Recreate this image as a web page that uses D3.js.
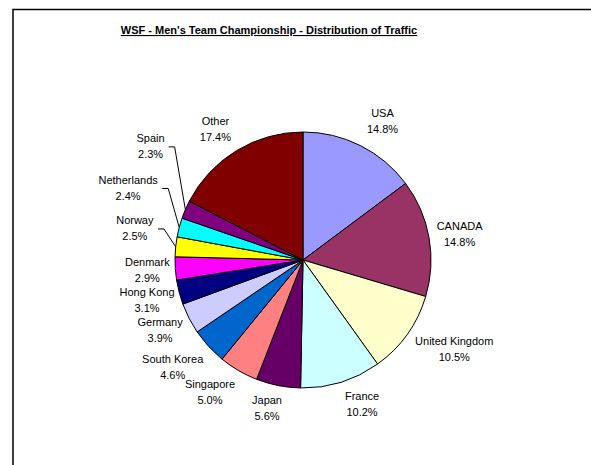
<!DOCTYPE html>
<html>
<head>
<meta charset="utf-8">
<script src="https://cdn.jsdelivr.net/npm/d3@7"></script>
<style>
  body { margin: 0; background: #fff; }
  text { font-family: "Liberation Sans", Arial, sans-serif; fill: #000; }
</style>
</head>
<body>
<svg id="chart"></svg>
<script>
// Data (clockwise from 12 o'clock)
const countries = ["USA", "CANADA", "United Kingdom", "France", "Japan", "Singapore", "South Korea",
    "Germany", "Hong Kong", "Denmark", "Norway", "Netherlands", "Spain", "Other"];
const shares = [14.8, 14.8, 10.5, 10.2, 5.6, 5.0, 4.6, 3.9, 3.1, 2.9, 2.5, 2.4, 2.3, 17.4];
const colors = ["#9999FF", "#993366", "#FFFFCC", "#CCFFFF", "#660066", "#FF8080", "#0066CC",
    "#CCCCFF", "#000080", "#FF00FF", "#FFFF00", "#00FFFF", "#800080", "#800000"];

// label nudges from the default polar spot (layout only)
const nudgeX = [10, 4, 25, 13, -6, -15, -16, -5, -6, -1, -14, -25, -10, -7];
const nudgeY = [0, 1, -1, -4, -4, -2, 2, -1, 1, 0, -16, -33, -53, 1];

const W = 591, H = 465;
const cx = 303, cy = 260, r = 128, labelR = 155;

const svg = d3.select("#chart")
    .attr("width", W)
    .attr("height", H);

// Frame (right and bottom edges fall outside the window)
svg.append("rect")
    .attr("x", 13).attr("y", 9.5)
    .attr("width", 700).attr("height", 600)
    .attr("fill", "none")
    .attr("stroke", "#000")
    .attr("stroke-width", 1.5);

// Title
svg.append("text")
    .attr("x", 269)
    .attr("y", 34)
    .attr("text-anchor", "middle")
    .style("font-size", "11px")
    .style("font-weight", "bold")
    .style("text-decoration", "underline")
    .text("WSF - Men's Team Championship - Distribution of Traffic");

const data = countries.map((c, i) => ({ name: c, value: shares[i], color: colors[i], i: i }));

const pie = d3.pie().sort(null).value(d => d.value);
const arcs = pie(data);
const arc = d3.arc().innerRadius(0).outerRadius(r);

const g = svg.append("g").attr("transform", `translate(${cx},${cy})`);

g.selectAll("path.slice")
    .data(arcs)
    .enter()
    .append("path")
    .attr("class", "slice")
    .attr("d", arc)
    .attr("fill", d => d.data.color)
    .attr("stroke", "#000")
    .attr("stroke-width", 1)
    .attr("stroke-linejoin", "round");

// Labels
const fmt = d3.format(".1f");
arcs.forEach(d => {
    const a = (d.startAngle + d.endAngle) / 2;
    const lx = Math.sin(a) * labelR + nudgeX[d.data.i];
    const ly = -Math.cos(a) * labelR + nudgeY[d.data.i];
    const t = g.append("text")
        .attr("text-anchor", "middle")
        .style("font-size", "11px");
    t.append("tspan").attr("x", lx).attr("y", ly - 4).text(d.data.name);
    t.append("tspan").attr("x", lx).attr("y", ly + 12).text(fmt(d.data.value) + "%");

    // leader line for labels pushed away from their slice
    if (Math.abs(nudgeY[d.data.i]) > 10) {
        const bb = t.node().getBBox();
        const x0 = bb.x + bb.width + 4;
        const y0 = ly + 1;
        const pts = [[x0, y0], [x0 + 6, y0], [Math.sin(a) * r, -Math.cos(a) * r]];
        g.append("path")
            .attr("d", d3.line()(pts))
            .attr("fill", "none")
            .attr("stroke", "#000")
            .attr("stroke-width", 1);
    }
});
</script>
</body>
</html>
